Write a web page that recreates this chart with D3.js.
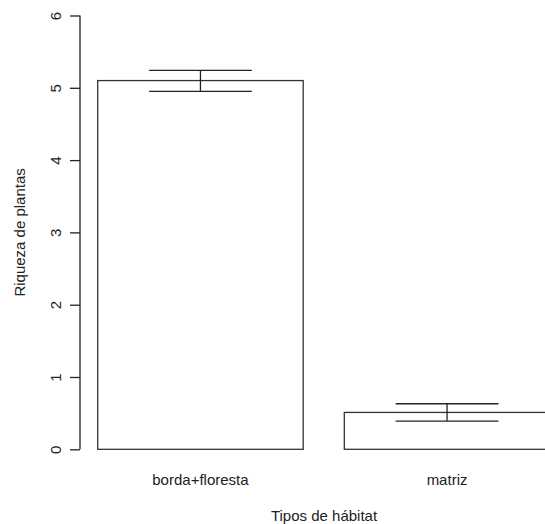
<!doctype html>
<html>
<head>
<meta charset="utf-8">
<script src="https://cdn.jsdelivr.net/npm/d3@7"></script>
<style>
  body { margin: 0; background: #fff; }
  .chart { font-family: 'Liberation Sans', Arial, sans-serif; }
  .chart text { fill: #222; }
</style>
</head>
<body>
<svg class="chart" width="545" height="524"></svg>
<script>
const categories = ["borda+floresta", "matriz"]
const means = [5.10, 0.51]
const upper = [5.24, 0.63]
const lower = [4.95, 0.39]
const yTicks = [0, 1, 2, 3, 4, 5, 6]

const svg = d3.select(".chart")

// R barplot units: width 1, space 0.2
const xScale = d3.scaleLinear().domain([0, 2.4]).range([56.6, 549.8])
const yScale = d3.scaleLinear().domain([0, 6]).range([449.3, 15.5])

const data = categories.map((c, i) => ({
  cat: c, mean: means[i], hi: upper[i], lo: lower[i],
  left: 0.2 + i * 1.2, mid: 0.7 + i * 1.2
}))

// bars
svg.selectAll(".bar")
  .data(data)
  .enter().append("rect")
    .attr("class", "bar")
    .attr("x", d => xScale(d.left))
    .attr("y", d => yScale(d.mean))
    .attr("width", xScale(1) - xScale(0))
    .attr("height", d => yScale(0) - yScale(d.mean))
    .attr("fill", "none")
    .attr("stroke", "#333")
    .attr("stroke-width", 1.3)

// error bars
const err = svg.selectAll(".err")
  .data(data)
  .enter().append("g")
    .attr("class", "err")
    .attr("stroke", "#222")
    .attr("stroke-width", 1.3)

err.append("line")
  .attr("x1", d => xScale(d.mid)).attr("x2", d => xScale(d.mid))
  .attr("y1", d => yScale(d.hi)).attr("y2", d => yScale(d.lo))
err.append("line")
  .attr("x1", d => xScale(d.mid - 0.25)).attr("x2", d => xScale(d.mid + 0.25))
  .attr("y1", d => yScale(d.hi)).attr("y2", d => yScale(d.hi))
err.append("line")
  .attr("x1", d => xScale(d.mid - 0.25)).attr("x2", d => xScale(d.mid + 0.25))
  .attr("y1", d => yScale(d.lo)).attr("y2", d => yScale(d.lo))

// y axis, R style
const yAxis = svg.append("g")
  .attr("transform", "translate(80,0)")
  .call(d3.axisLeft(yScale).tickValues(yTicks).tickSize(10).tickSizeOuter(0).tickPadding(0).tickFormat(d3.format("d")))

yAxis.select(".domain").attr("stroke", "#222").attr("stroke-width", 1.3)
  .attr("d", "M0," + yScale(0) + "V" + yScale(6))
yAxis.selectAll(".tick line").attr("stroke", "#222").attr("stroke-width", 1.3)
yAxis.selectAll(".tick text")
  .attr("x", null).attr("dy", null)
  .attr("text-anchor", "middle")
  .attr("transform", "translate(-19,0) rotate(-90)")
  .attr("font-size", 15)
  .attr("font-family", "'Liberation Sans', Arial, sans-serif")
  .style("fill", "#222")

// category labels
svg.selectAll(".cat")
  .data(data)
  .enter().append("text")
    .attr("class", "cat")
    .attr("x", d => xScale(d.mid))
    .attr("y", 484.5)
    .attr("text-anchor", "middle")
    .attr("font-size", 15)
    .text(d => d.cat)

// axis titles
svg.append("text")
  .attr("x", 324).attr("y", 520.7)
  .attr("text-anchor", "middle")
  .attr("font-size", 15)
  .text("Tipos de hábitat")

svg.append("text")
  .attr("transform", "translate(25," + yScale(3) + ") rotate(-90)")
  .attr("text-anchor", "middle")
  .attr("font-size", 15)
  .text("Riqueza de plantas")
</script>
</body>
</html>
